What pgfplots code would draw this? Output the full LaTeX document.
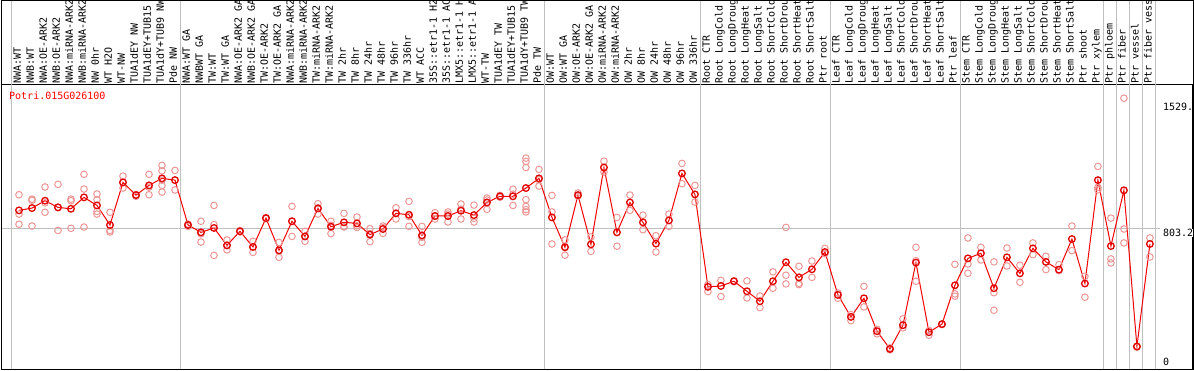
\documentclass[border=0pt]{standalone}
\usepackage{pgfplots}
\pgfplotsset{compat=1.18}
\usepackage{fontspec}
\setmonofont{DejaVu Sans Mono}
\definecolor{repcol}{RGB}{236,150,150}
\definecolor{gridgray}{RGB}{192,192,192}
\definecolor{meanred}{RGB}{245,0,0}
\newcommand{\lf}{\ttfamily\fontsize{10}{10}\selectfont}

\pgfplotstableread{
x y
1 905
2 918
3 960
4 922
5 914
6 979
7 933
8 822
9 1064
10 992
11 1047
12 1087
13 1077
14 822
15 780
16 805
17 706
18 786
19 697
20 861
21 678
22 843
23 757
24 916
25 812
26 837
27 831
28 767
29 799
30 888
31 880
32 763
33 873
34 873
35 903
36 878
37 950
38 985
39 985
40 1032
41 1087
42 865
43 695
44 992
45 712
46 1149
47 780
48 950
49 837
50 716
51 848
52 1115
53 996
54 470
55 475
56 502
57 445
58 388
59 502
60 610
61 524
62 570
63 668
64 424
65 299
66 405
67 218
68 117
69 252
70 608
71 212
72 258
73 479
74 632
75 661
76 462
77 638
78 547
79 689
80 612
81 568
82 742
83 489
84 1077
85 702
86 1019
87 131
88 714
}\means

\pgfplotstableread{
x y
1 994
1 884
1 826
2 969
2 962
2 816
3 1038
3 894
3 948
4 1053
4 791
4 922
5 969
5 960
5 803
6 1110
6 1026
6 810
7 998
7 966
7 899
7 884
8 894
8 791
8 782
9 1100
9 1032
9 1064
10 992
10 985
10 995
11 1110
11 1037
11 994
12 1161
12 1130
12 1077
12 1047
12 1009
13 1132
13 1021
14 827
14 814
15 843
15 725
15 772
16 933
16 824
16 649
17 737
17 680
17 706
18 790
18 782
19 729
19 666
19 697
20 864
20 858
21 723
21 638
21 673
22 928
22 757
22 844
23 786
23 729
23 757
24 943
24 884
24 920
25 843
25 773
25 820
26 888
26 812
26 811
27 867
27 808
27 818
28 801
28 727
28 773
29 816
29 774
29 807
30 920
30 856
30 888
31 956
31 814
31 870
32 814
32 723
32 752
33 892
33 856
33 871
34 896
34 839
34 884
35 941
35 856
35 912
36 935
36 839
36 860
37 975
37 911
37 964
38 990
38 980
39 1025
39 933
39 997
40 1202
40 1183
40 1149
40 966
40 928
40 909
40 896
41 1138
41 1043
41 1080
42 990
42 896
42 714
43 737
43 650
43 698
44 1004
44 985
45 754
45 672
46 1185
46 1123
47 865
47 701
48 992
48 905
49 878
49 795
50 761
50 668
51 884
51 814
52 1172
52 1057
53 1047
53 952
54 483
54 443
55 507
55 415
56 504
56 500
57 504
57 407
58 418
58 352
59 555
59 462
60 808
60 536
60 487
61 587
61 490
61 483
62 617
62 524
63 689
63 659
64 435
64 405
65 312
65 278
66 473
66 356
67 229
67 203
68 123
68 112
69 288
69 237
70 695
70 619
70 502
71 222
71 195
72 258
72 256
73 598
73 430
73 417
74 748
74 600
74 547
75 695
75 623
76 612
76 437
76 337
77 691
77 589
78 593
78 496
79 720
79 653
80 644
80 568
81 596
81 562
82 816
82 676
83 530
83 411
84 1155
84 1036
84 1022
85 861
85 629
85 606
86 1543
86 799
86 720
87 131
87 127
88 748
88 640
}\reps

\begin{document}
\begin{tikzpicture}
\useasboundingbox (0pt,0pt) rectangle (1194pt,370pt);
\begin{axis}[
  at={(1.5pt,0.5pt)}, anchor=south west,
  scale only axis, width=1191.5pt, height=284.5pt,
  xmin=-0.346, xmax=91.31, ymin=0, ymax=1618,
  axis line style={line width=1pt},
  xtick={1,...,88},
  xticklabels={NWA:WT,NWB:WT,NWA:OE-ARK2,NWB:OE-ARK2,NWA:miRNA-ARK2,NWB:miRNA-ARK2,NW 0hr,WT H2O,WT-NW,TUA1dEY NW,TUA1dEY+TUB15,TUA1dY+TUB9 NW,Pde NW,NWA:WT GA,NWBWT GA,TW:WT,TW:WT GA,NWA:OE-ARK2 GA,NWB:OE-ARK2 GA,TW:OE-ARK2,TW:OE-ARK2 GA,NWA:miRNA-ARK2,NWB:miRNA-ARK2,TW:miRNA-ARK2,TW:miRNA-ARK2,TW 2hr,TW 8hr,TW 24hr,TW 48hr,TW 96hr,TW 336hr,WT ACC,35S::etr1-1 H2,35S::etr1-1 AC,LMX5::etr1-1 H,LMX5::etr1-1 A,WT-TW,TUA1dEY TW,TUA1dEY+TUB15,TUA1dY+TUB9 TW,Pde TW,OW:WT,OW:WT GA,OW:OE-ARK2,OW:OE-ARK2 GA,OW:miRNA-ARK2,OW:miRNA-ARK2,OW 2hr,OW 8hr,OW 24hr,OW 48hr,OW 96hr,OW 336hr,Root CTR,Root LongCold,Root LongDroug,Root LongHeat,Root LongSalt,Root ShortCold,Root ShortDrou,Root ShortHeat,Root ShortSalt,Ptr root,Leaf CTR,Leaf LongCold,Leaf LongDroug,Leaf LongHeat,Leaf LongSalt,Leaf ShortCold,Leaf ShortDrou,Leaf ShortHeat,Leaf ShortSalt,Ptr leaf,Stem CTR,Stem LongCold,Stem LongDroug,Stem LongHeat,Stem LongSalt,Stem ShortCold,Stem ShortDrou,Stem ShortHeat,Stem ShortSalt,Ptr shoot,Ptr xylem,Ptr phloem,Ptr fiber,Ptr vessel,Ptr fiber vess},
  xticklabel pos=upper,
  xticklabel style={font=\lf, xshift=1.8pt, yshift=1pt, rotate=90, anchor=base west, inner sep=0pt},
  major tick length=0pt,
  xtick style={draw=none},
  ytick=\empty,
  clip=false,
]
\draw[gridgray, line width=1pt] (axis cs:-0.346,803.2) -- (axis cs:88.8,803.2);
\draw[gridgray, line width=1pt] (axis cs:0.4,0) -- (axis cs:0.4,2098);
\draw[gridgray, line width=1pt] (axis cs:13.4,0) -- (axis cs:13.4,2098);
\draw[gridgray, line width=1pt] (axis cs:41.4,0) -- (axis cs:41.4,2098);
\draw[gridgray, line width=1pt] (axis cs:53.4,0) -- (axis cs:53.4,2098);
\draw[gridgray, line width=1pt] (axis cs:63.4,0) -- (axis cs:63.4,2098);
\draw[gridgray, line width=1pt] (axis cs:73.4,0) -- (axis cs:73.4,2098);
\draw[gridgray, line width=1pt] (axis cs:84.4,0) -- (axis cs:84.4,2098);
\draw[gridgray, line width=1pt] (axis cs:85.4,0) -- (axis cs:85.4,2098);
\draw[gridgray, line width=1pt] (axis cs:86.4,0) -- (axis cs:86.4,2098);
\draw[gridgray, line width=1pt] (axis cs:87.4,0) -- (axis cs:87.4,2098);
\draw[gridgray, line width=1pt] (axis cs:88.4,0) -- (axis cs:88.4,2098);

\addplot[only marks, mark=o, mark size=3.3pt, repcol, mark options={line width=1pt}] table[x=x,y=y] {\reps};
\addplot[meanred, line width=1pt, mark=o, mark size=3.3pt, mark options={line width=1.3pt, draw=meanred!92!black}] table[x=x,y=y] {\means};

\node[anchor=north west, inner sep=0pt, font=\lf, text=red] at (axis cs:0.23,1578) {Potri.015G026100};
\node[anchor=north west, inner sep=0pt, font=\lf] at (axis cs:89.0,1515) {1529.};
\node[anchor=north west, inner sep=0pt, font=\lf, fill=white] at (axis cs:89.0,799) {803.2};
\node[anchor=base west, inner sep=0pt, font=\lf] at (axis cs:89.0,25) {0};
\end{axis}
\draw[line width=1pt] (1.5pt,0.5pt) rectangle (1193pt,369.5pt);
\end{tikzpicture}
\end{document}
